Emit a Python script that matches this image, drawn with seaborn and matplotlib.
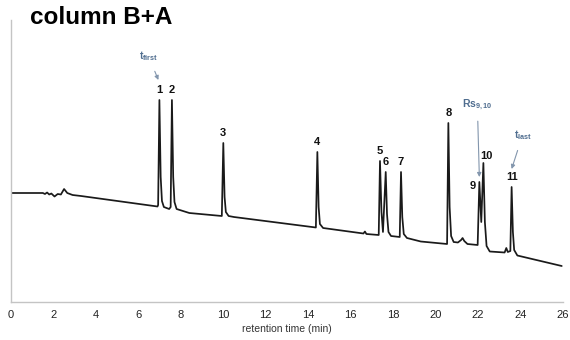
import numpy as np
import pandas as pd
import matplotlib
matplotlib.use("Agg")
import matplotlib.pyplot as plt
import matplotlib.transforms as mtransforms
import seaborn as sns

# ---- data ----
times = [0.00, 1.50, 1.60, 1.70, 1.80, 1.90, 2.05, 2.20, 2.35, 2.50, 2.65, 2.90, 3.30, 6.90,
         6.93, 6.99, 7.05, 7.11, 7.20, 7.45,
         7.52, 7.58, 7.64, 7.70, 7.80, 8.40, 9.93,
         10.00, 10.06, 10.12, 10.25, 10.50, 14.36,
         14.43, 14.49, 14.55, 14.70, 16.60, 16.67, 16.74, 17.32,
         17.38, 17.45, 17.52, 17.65, 17.71, 17.78, 17.90, 18.31,
         18.37, 18.43, 18.50, 18.65, 19.30, 20.54,
         20.60, 20.66, 20.73, 20.85, 21.05, 21.20, 21.27, 21.35, 21.50, 21.98,
         22.06, 22.15, 22.25, 22.32, 22.40, 22.55, 23.25, 23.33, 23.40, 23.52,
         23.58, 23.64, 23.70, 23.85, 25.94]
signal = [109, 109, 108, 109.5, 107.5, 108.5, 105.5, 108, 107.5, 113, 109, 107, 106, 95.5,
          97, 202, 125, 101, 95, 93,
          95, 202, 125, 100, 93, 89, 86,
          159, 105, 90, 86, 85, 74.5,
          150, 95, 78, 74, 68.5, 70.5, 68, 67,
          141, 90, 70, 130, 88, 70, 66, 65,
          130, 85, 68, 64, 60.5, 58,
          179, 95, 66, 60, 59.5, 62, 64, 61, 58, 57,
          120, 80, 139, 80, 56, 50.5, 49.5, 54, 50, 51,
          115, 70, 52, 46.5, 36]

peak_ids = ["1", "2", "3", "4", "5", "6", "7", "8", "9", "10", "11"]
peak_times = [6.99, 7.58, 10.00, 14.43, 17.38, 17.65, 18.37, 20.60, 22.06, 22.25, 23.58]
x_ticks = list(range(0, 27, 2))

df = pd.DataFrame({"time": times, "signal": signal})

sns.set_style("white")
plt.rcParams["font.family"] = ["Liberation Sans", "DejaVu Sans"]
plt.rcParams["mathtext.fontset"] = "custom"
plt.rcParams["mathtext.bf"] = "Liberation Sans:bold"
plt.rcParams["mathtext.rm"] = "Liberation Sans"

fig = plt.figure(figsize=(5.7, 3.4), dpi=100)
ax = fig.add_axes([11 / 570, 38 / 340, 552 / 570, 282 / 340])

sns.lineplot(data=df, x="time", y="signal", color="#1a1a1a", lw=1.25, ax=ax,
             sort=False, estimator=None)

ax.set_xlim(0, 26)
ax.set_ylim(0, 282)
ax.set_xticks(x_ticks)
ax.set_xticklabels([str(v) for v in x_ticks])
ax.set_yticks([])
ax.set_ylabel("")
ax.set_xlabel("retention time (min)", fontsize=7.5, color="#333333", labelpad=3)
for s in ["top", "right"]:
    ax.spines[s].set_visible(False)
for s in ["left", "bottom"]:
    ax.spines[s].set_color("#c4c4c4")
    ax.spines[s].set_linewidth(1.0)
ax.tick_params(axis="x", direction="in", length=3, color="#bbbbbb",
               labelsize=8, labelcolor="#222222", pad=6)

# peak number labels
label_offsets = {"9": (-7, -4), "10": (3, 7)}
for pid, pt in zip(peak_ids, peak_times):
    apex = np.interp(pt, times, signal)
    dx, dy = label_offsets.get(pid, (0, 10))
    ax.annotate(pid, xy=(pt, apex), xytext=(dx, dy), textcoords="offset pixels",
                ha="center", va="center", fontsize=8, fontweight="bold",
                color="#111111")

# marker annotations
ann_color = "#4f6d8f"
arrow_color = "#8396ad"
ann_specs = [
    (r"$\mathbf{t}_{\mathbf{first}}$", 0, (-1, 20), (-10, 24)),
    (r"$\mathbf{Rs}_{\mathbf{9,10}}$", 8, (0, 5), (-2, 72)),
    (r"$\mathbf{t}_{\mathbf{last}}$", 10, (0, 18), (11, 34)),
]
for txt, idx, tip, toff in ann_specs:
    pt = peak_times[idx]
    apex = np.interp(pt, times, signal)
    tr = mtransforms.offset_copy(ax.transData, fig=fig, x=tip[0], y=tip[1], units="dots")
    ax.annotate(txt, xy=(pt, apex), xycoords=tr, xytext=toff, textcoords="offset pixels",
                ha="center", va="center", fontsize=7.5, color=ann_color,
                arrowprops=dict(arrowstyle="-|>", color=arrow_color, lw=0.8,
                                mutation_scale=6, shrinkA=4, shrinkB=0))

fig.text(30 / 570, 1 - 18 / 340, "column B+A", fontsize=17.5, fontweight="bold",
         ha="left", va="center", color="#000000")

fig.savefig("out.png", dpi=100)
